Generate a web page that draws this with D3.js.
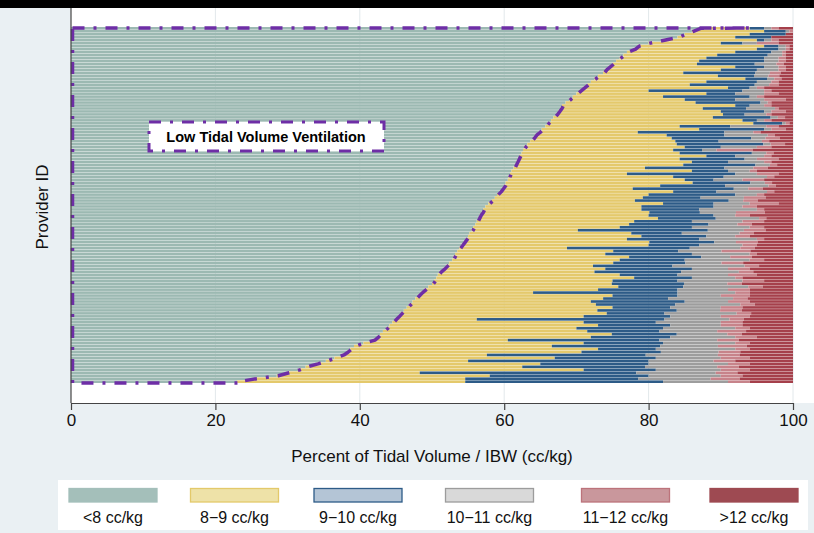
<!DOCTYPE html>
<html><head><meta charset="utf-8">
<script src="https://cdn.jsdelivr.net/npm/d3@7/dist/d3.min.js"></script>
<style>
html,body{margin:0;padding:0;background:#eaf0f3;}
svg{display:block;font-family:"Liberation Sans",Arial,sans-serif;}
</style></head>
<body>
<svg id="chart" width="814" height="533"></svg>
<script>
// ---- data (percent of tidal volume per provider, sorted) ----
const categories = ["<8 cc/kg","8\u22129 cc/kg","9\u221210 cc/kg","10\u221211 cc/kg","11\u221212 cc/kg",">12 cc/kg"];
const xTicks = [0,20,40,60,80,100];
const lt8 = [87,86,85,84,82,80,78.5,78,77,76.5,
76,75.5,75,74.5,74,73.7,73,72.5,72,71.5,
71,70.5,70,69.5,69,68.5,68,67.8,67.5,67.2,
66.8,66.5,66,65.7,65.2,64.8,64.3,64,63.6,63.2,
62.8,62.6,62.4,62.1,61.9,61.7,61.5,61.3,61,60.8,
60.6,60.5,60.2,60,59.7,59.4,59,58.7,58.3,57.8,
57.4,57.1,56.9,56.6,56.4,56.2,56,55.7,55.5,55.2,
55,54.7,54.4,54.1,53.8,53.5,53.2,53,52.8,52.4,
52,51.6,51.1,50.8,50.6,50.3,50,49.5,49,48.5,
48.1,47.7,47.3,46.9,46.5,46.1,45.7,45.3,44.9,44.5,
44.1,43.7,43.2,42.8,42.4,41.9,40.5,39.2,38.7,38.2,
37.6,36.5,35.3,34,32.5,31.5,30,28.5,25.5,23];
const v8_9 = [7,10,9,8,13,10,17.5,17,15,13,
12,11.5,11.7,17.5,16,11.1,16.6,20.9,16,14.2,
20,9.5,18,12.5,16,18,24,19.7,22.5,23.1,
22.1,26.5,28.5,18.6,21.8,13.7,18.2,19.2,20.1,20.7,
22.2,20.8,21.9,25.9,22.4,24.3,23.3,18.2,25,16.2,
22.8,24.5,25.9,21.6,18.1,24,21,20.5,19.8,24.2,
21.6,21.9,23.2,23.4,24.9,21.8,21.3,20.3,14.7,22.4,
24,22.3,25.7,25.9,14.9,21.6,20.8,24.3,23.2,22.7,
20.3,22.4,21.4,25.2,27.4,24.7,24.9,26.3,24,15.5,
26.9,26,24.7,25.8,28.5,26.8,28.5,25.7,11.3,26.5,
28.9,26.3,28.3,32.1,29.6,18.6,30.5,27.4,34.3,32.5,
20,30.5,19.7,31,30,39.5,18.3,29.5,29.1,31.6];
const v9_10 = [2,3,5,5,1,3,2,3,5,7,
8,9,8,4,5,10,5,3,7,9,
3,13,4,12,7,9,2,6,6,3,
8,2,4,7,9,12,8,11,6,12,
5,4,10,4,9,5,10,11,5,15,
7,4,8,9,14,6,12,8,13,7,
10,8,7,9,8,8,11,10,18,7,
9,10,9,7,17,9,12,10,9,10,
11,12,12,8,8,9,10,9,11,20,
9,9,13,11,8,11,8,12,26,10,
10,12,10,9,11,21,11,15,8,11,
22,14,25,15,17,10,30,22,24,27.4];
const v10_11 = [1,0.5,0,0,1,2,1,1,1.5,2,
2,2,3,2,3,2,2,1,2,2,
1,3,4,1,4,1,2,4,1,3,
1,1,0.5,5,1,4,6,2,6,1,
5,2,2,4,1.7,5,2,4,3,3,
6,4,2,6,2,7,3,6,2,5,
4,8,5,3,6,7,4,8,5,8,
4,8,3,6,7,6,8,4,9,5,
10,5,8,7,6,9,6,9,7,8,
6,9,6,9,7,6,10,7,9,9,
7,10,8,7,9,8,10,8,11,8,
10,9,9,11,10,9,11,10,10,9];
const v11_12 = [1,0.5,0,0,1,3,0.5,0.5,0.5,0.5,
1,1,1,1,1,1.5,1.5,1,1,1.3,
1,1,2,1,3,0.5,1,0.5,2,0.7,
1,1,0.5,1.7,2,1,1,2,1,2,
2,5,1,1,3,1,1,2,1,3,
1,3,1,1,2,1,1,3,2,4,
2,1,4,2,1,3,2,2,3,2,
2,1,3,2,2,4,1,3,2,3,
2,3,2,4,1,3,2,2,3,2,
4,2,3,2,3,3,2,4,2,3,
3,2,4,2,3,3,2,4,2,3,
3,4,3,3,3,4,3,3,4,3];
const gt12 = [2,0,1,3,2,2,0.5,0.5,1,1,
1,1,1.3,1,1,1.7,1.9,1.6,2,2,
4,3,2,4,1,3,3,2,1,3,
1.1,3,0.5,2,1,4.5,2.5,1.8,3.3,1.1,
3,5.6,2.7,3,2,3,2.2,3.5,5,2,
2.6,4,2.9,2.4,4.2,2.6,4,3.8,4.9,2,
5,4,3.9,6,3.7,4,5.7,4,3.8,5.4,
6,4,4.9,5,5.3,5.9,5,5.7,4,6.9,
4.7,6,5.5,5,7,4,7.1,4.2,6,6,
6,6.3,6,5.3,7,7.1,5.8,6,6.8,7,
7,6,6.5,7.1,5,7.5,6,6.4,6,7.3,
7.4,6,8,6,7.5,6,7.7,7,7.4,6];

// ---- styles ----
const barColors = ["#9cb9b2","#e4c96c","#2d5b87","#9d9d9d","#c7838a","#a5404b"];
const keyFill   = ["#a4bfba","#eee2a8","#b4c5d6","#d9d9d9","#c9979c","#9e4a52"];
const keyStroke = ["#a4bfba","#e3c96a","#2d5b87","#9c9c9c","#bc737b","#9e4a52"];
const purple = "#6e2ea6";

const svg = d3.select("#chart");
const W = 814, H = 533;
const plot = {left:71, right:793, top:8, bottom:403};

// top black band
svg.append("rect").attr("x",0).attr("y",0).attr("width",W).attr("height",8).attr("fill","#000");
// plot region
svg.append("rect").attr("x",plot.left).attr("y",plot.top).attr("width",W-plot.left).attr("height",plot.bottom-plot.top).attr("fill","#fff");

const x = d3.scaleLinear().domain([0,100]).range([plot.left, plot.right]);
const ids = d3.range(lt8.length);
const y = d3.scaleBand().domain(ids).range([27, 383]).paddingInner(0.12);

// gridlines
svg.append("g").selectAll("line").data(xTicks.slice(1)).join("line")
  .attr("x1",d=>x(d)).attr("x2",d=>x(d)).attr("y1",plot.top).attr("y2",plot.bottom)
  .attr("stroke","#e2e8eb").attr("stroke-width",1);

// data table
const series = [lt8,v8_9,v9_10,v10_11,v11_12,gt12];
const table = ids.map(i => { const o = {id:i}; categories.forEach((c,k)=>o[c]=series[k][i]); return o; });
const stacked = d3.stack().keys(categories).offset(d3.stackOffsetExpand)(table);

const gBars = svg.append("g");
stacked.forEach((layer,k) => {
  gBars.append("g").attr("fill",barColors[k]).selectAll("rect").data(layer).join("rect")
    .attr("x",d=>x(d[0]*100)).attr("width",d=>Math.max(0,x(d[1]*100)-x(d[0]*100)))
    .attr("y",d=>y(d.data.id)).attr("height",y.bandwidth());
});

// outline of low tidal volume region
const yTop = y.range()[0]+1, yBot = y.range()[1];
const pts = [[0,yTop],[stacked[1][0][1]*100,yTop]];
stacked[0].forEach(d => pts.push([d[1]*100, y(d.data.id)+y.bandwidth()/2]));
pts.push([stacked[0][stacked[0].length-1][1]*100, yBot], [0,yBot], [0,yTop]);
svg.append("path").attr("d", d3.line().x(d=>x(d[0])+1.5).y(d=>d[1])(pts))
  .attr("fill","none").attr("stroke",purple).attr("stroke-width",3.5)
  .attr("stroke-dasharray","12,9,3,9").attr("stroke-linejoin","round");

// axes
const ax = svg.append("g").attr("transform",`translate(0,${plot.bottom})`)
  .call(d3.axisBottom(x).tickValues(xTicks).tickSize(7).tickPadding(4).tickSizeOuter(0));
ax.select(".domain").attr("stroke","#444").attr("stroke-width",1.2);
ax.selectAll(".tick line").attr("stroke","#444").attr("stroke-width",1.2);
ax.selectAll(".tick text").attr("font-size",17).attr("fill","#111").attr("font-family","'Liberation Sans',Arial,sans-serif");
svg.append("line").attr("x1",plot.left).attr("x2",plot.left).attr("y1",plot.top).attr("y2",plot.bottom)
  .attr("stroke","#444").attr("stroke-width",1.2);

svg.append("text").attr("x",(plot.left+plot.right)/2).attr("y",462).attr("text-anchor","middle")
  .attr("font-size",17).attr("fill","#111").text("Percent of Tidal Volume / IBW (cc/kg)");
svg.append("text").attr("transform",`translate(48,207) rotate(-90)`).attr("text-anchor","middle")
  .attr("font-size",17).attr("fill","#111").text("Provider ID");

// annotation
const ann = svg.append("g");
ann.append("rect").attr("x",149).attr("y",122).attr("width",235).attr("height",29)
  .attr("fill","#fff").attr("stroke",purple).attr("stroke-width",3)
  .attr("stroke-dasharray","12,9,3,9");
ann.append("text").attr("x",266).attr("y",141.5).attr("text-anchor","middle")
  .attr("font-size",14.5).attr("font-weight","bold").attr("fill","#000").text("Low Tidal Volume Ventilation");

// legend
const legendX = [69,190.5,314,445.5,581.5,710];
const lg = svg.append("g");
lg.append("rect").attr("x",58).attr("y",480).attr("width",750).attr("height",50).attr("fill","#fff");
categories.forEach((c,k) => {
  lg.append("rect").attr("x",legendX[k]).attr("y",488.5).attr("width",88).attr("height",13.5)
    .attr("fill",keyFill[k]).attr("stroke",keyStroke[k]).attr("stroke-width",1.3);
  lg.append("text").attr("x",legendX[k]+44).attr("y",523).attr("text-anchor","middle")
    .attr("font-size",16).attr("fill","#111").text(c);
});
</script>
</body></html>
